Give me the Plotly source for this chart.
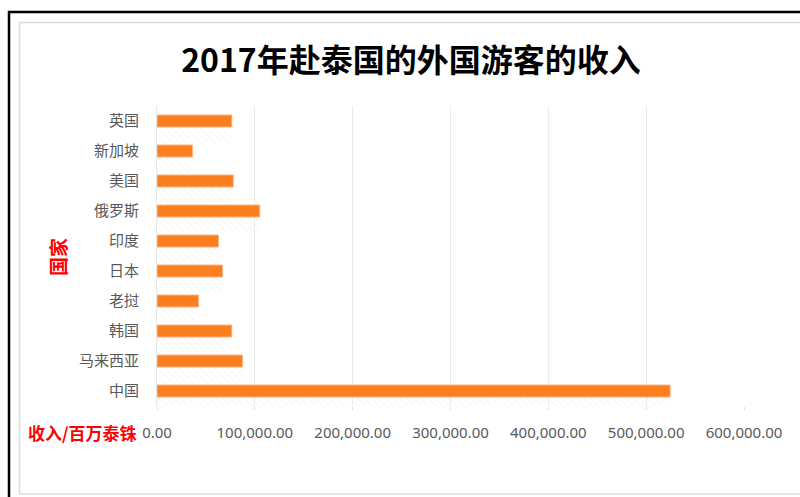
import plotly.graph_objects as go

# Revenue from foreign visitors to Thailand, 2017 (million baht)
countries = ["中国", "马来西亚", "韩国", "老挝", "日本", "印度", "俄罗斯", "美国", "新加坡", "英国"]
revenue = [524500, 87300, 76500, 42500, 67000, 62800, 105000, 78000, 36400, 76500]
x_ticks = [0, 100000, 200000, 300000, 400000, 500000, 600000]

W, H = 800, 497
ML, MR, MT, MB = 157, 56, 106, 91
PW, PH = W - ML - MR, H - MT - MB


def px_x(p):
    return (p - ML) / PW


def px_y(p):
    return (H - MB - p) / PH


fig = go.Figure()

# faint hatched shadow under each bar
fig.add_trace(go.Bar(
    y=countries, x=revenue, orientation="h",
    offset=-0.72, width=0.52,
    marker=dict(color="rgba(0,0,0,0)", line=dict(width=0),
                pattern=dict(shape="\\", fgcolor="#e8e8e8", bgcolor="rgba(0,0,0,0)",
                             size=5, solidity=0.2)),
    hoverinfo="skip", showlegend=False,
))

fig.add_trace(go.Bar(
    y=countries, x=revenue, orientation="h",
    offset=-0.2, width=0.4,
    marker=dict(color="#FB7E1F", line=dict(color="#FDB47F", width=1)),
    showlegend=False,
))

fig.update_layout(
    width=W, height=H,
    margin=dict(l=ML, r=MR, t=MT, b=MB),
    paper_bgcolor="white", plot_bgcolor="white",
    barmode="overlay",
    font=dict(family="Noto Sans CJK SC, Noto Sans, sans-serif", color="#595959"),
    title=dict(text="<b>2017年赴泰国的外国游客的收入</b>",
               font=dict(size=32, color="black", family="Noto Sans CJK SC"),
               x=411 / W, xanchor="center", xref="container",
               y=1 - 61 / H, yanchor="middle", yref="container"),
    xaxis=dict(range=[0, 600000], tickvals=x_ticks, tickformat=",.2f",
               showgrid=True, gridcolor="#ebebeb", gridwidth=1,
               zeroline=False, showline=False,
               ticks="outside", ticklen=3, tickcolor="#e0e0e0",
               ticklabelstandoff=10,
               tickfont=dict(size=15, color="#595959", family="Noto Sans")),
    yaxis=dict(categoryorder="array", categoryarray=countries,
               range=[-0.5, len(countries) - 0.5],
               showgrid=False, zeroline=False,
               showline=True, linecolor="#e6e6e6", linewidth=1,
               ticks="", ticklabelstandoff=14,
               tickfont=dict(size=15, color="#595959", family="Noto Sans CJK SC")),
)

# axis titles
fig.add_annotation(text="<b>收入/百万泰铢</b>", xref="paper", yref="paper",
                   x=px_x(139), y=px_y(432), xanchor="right", yanchor="middle",
                   showarrow=False, font=dict(size=17, color="#FF0000", family="Noto Sans CJK SC"))
fig.add_annotation(text="<b>国家</b>", xref="paper", yref="paper",
                   x=px_x(57), y=px_y(257), xanchor="center", yanchor="middle",
                   textangle=-90, showarrow=False,
                   font=dict(size=19, color="#FF0000", family="Noto Sans CJK SC"))

# outer frame and inner chart-area border
fig.add_shape(type="rect", xref="paper", yref="paper",
              x0=px_x(9), y0=px_y(510), x1=px_x(815), y1=px_y(12),
              line=dict(color="black", width=2.5), layer="above")
fig.add_shape(type="rect", xref="paper", yref="paper",
              x0=px_x(19.5), y0=px_y(494), x1=px_x(812), y1=px_y(22.5),
              line=dict(color="#dcdcdc", width=1.5), layer="above")

fig.write_html("out.html")
